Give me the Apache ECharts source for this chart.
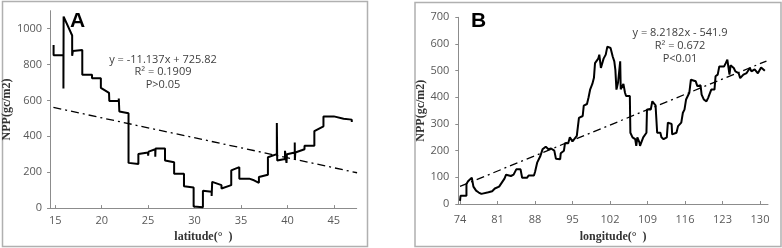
<!DOCTYPE html>
<html><head><meta charset="utf-8">
<script src="https://cdn.jsdelivr.net/npm/echarts@6/dist/echarts.min.js"></script>
<style>html,body{margin:0;padding:0;background:#fff}#c{width:782px;height:248px}</style>
</head><body><div id="c"></div>
<script>
// Panel A: NPP vs latitude
const latA = [14.82,14.82,15.88,15.88,15.9,16.82,16.82,16.9,17.91,17.91,18.96,18.96,19.91,19.91,20.79,20.82,21.84,21.84,21.9,22.89,22.89,23.95,23.95,25.0,25.0,25.05,25.77,25.77,25.8,26.82,26.82,27.8,27.8,28.86,28.86,29.9,29.9,30.9,30.9,31.84,31.84,31.9,32.9,32.9,33.95,33.95,34.82,34.82,35.88,35.88,36.4,36.93,36.93,37.9,37.9,38.86,38.86,38.9,39.74,39.74,39.9,39.95,40.79,40.79,40.8,40.85,41.84,41.84,42.9,42.9,43.88,43.88,45.0,45.0,46.05,46.93,46.93];
const nppA = [909,852,852,666,1067,962,849,876,881,743,743,724,724,670,642,597,597,611,538,529,252,246,301,310,292,315,328,286,332,332,265,255,192,192,122,115,9,5,97,91,68,146,128,109,128,210,228,164,164,173,155,141,173,186,283,301,474,265,274,319,252,300,310,365,268,310,328,347,347,429,456,511,511,502,498,493,480];
const trendAx = [14.8, 47.5];
const trendAy = [561, 197];
const ticksAx = [15,20,25,30,35,40,45];
const ticksAy = [0,200,400,600,800,1000];

// Panel B: NPP vs longitude
const lonB = [74.0,74.1,75.2,75.2,75.5,76.2,76.5,77.0,77.5,78.0,78.3,79.3,80.0,80.5,81.3,81.8,82.3,82.6,83.5,84.0,84.5,85.3,85.6,86.5,86.8,87.8,88.0,88.4,89.0,89.4,90.0,90.5,91.0,91.6,91.9,92.7,92.8,93.4,93.6,94.2,94.5,95.0,95.8,95.9,96.2,96.9,97.1,97.7,98.0,98.3,98.7,99.0,99.2,99.8,100.0,100.3,100.8,101.2,101.5,102.1,102.5,102.8,103.0,103.2,103.5,103.8,103.9,104.0,104.5,104.8,105.0,105.7,105.8,106.2,106.7,106.9,107.1,107.5,107.6,108.2,108.8,108.9,109.6,109.9,110.5,110.8,111.4,111.6,112.0,112.6,112.8,113.5,113.6,114.4,114.7,115.3,115.6,115.9,116.2,116.8,117.1,118.0,118.3,118.9,119.1,119.5,120.0,120.3,120.9,121.5,121.7,122.1,122.4,123.3,123.6,123.9,124.2,124.3,124.5,125.1,125.4,126.0,126.3,126.9,127.5,128.1,128.4,129.0,129.6,130.2,130.9];
const nppB = [12,31,31,75,85,99,65,50,43,38,44,44,48,58,65,80,95,110,105,110,130,130,98,98,107,107,120,155,180,205,215,205,208,200,170,168,190,200,228,228,250,235,255,262,323,330,369,375,400,430,450,473,528,545,560,510,545,560,590,585,553,535,503,429,455,455,535,430,450,417,405,405,267,250,243,218,250,230,218,250,267,354,354,385,370,267,267,250,243,250,305,300,261,267,292,305,342,354,392,417,466,460,442,445,410,392,385,397,429,429,479,485,516,516,528,541,535,485,520,510,497,491,472,485,491,510,497,505,490,512,500];
const trendBx = [74, 131.2];
const trendBy = [66, 536];
const ticksBx = [74,81,88,95,102,109,116,123,130];
const ticksBy = [0,100,200,300,400,500,600,700];

const zip = (xs, ys) => xs.map((x, i) => [x, ys[i]]);
const lblColor = '#595959';
const axColor = '#8c8c8c';
const nameStyle = {fontFamily: 'Liberation Serif', fontWeight: 'bold', fontSize: 12, color: '#333'};

function xAxis(idx, min, max, ticks, name, gap, margin) {
  return {type: 'value', gridIndex: idx, min, max, name, nameLocation: 'middle', nameGap: gap,
    nameTextStyle: nameStyle,
    axisLine: {lineStyle: {color: axColor, width: 1}},
    axisTick: {show: true, inside: true, length: 3, customValues: ticks, lineStyle: {color: axColor}},
    axisLabel: {customValues: ticks, color: lblColor, fontFamily: 'Open Sans', fontSize: 11, margin, formatter: v => String(v)},
    splitLine: {show: false}};
}
function yAxis(idx, min, max, ticks, gap, margin) {
  return {type: 'value', gridIndex: idx, min, max, name: 'NPP(gc/m2)', nameLocation: 'middle', nameGap: gap,
    nameRotate: 90, nameTextStyle: nameStyle,
    axisLine: {show: true, lineStyle: {color: axColor, width: 1}},
    axisTick: {show: true, length: 3, customValues: ticks, lineStyle: {color: axColor}},
    axisLabel: {customValues: ticks, color: lblColor, fontFamily: 'Open Sans', fontSize: 11, margin, formatter: v => String(v)},
    splitLine: {show: false}};
}
const eqStyle = {fontFamily: 'Open Sans', fontSize: 11, fill: '#404040', textAlign: 'center', textVerticalAlign: 'middle'};

const chart = echarts.init(document.getElementById('c'), null, {renderer: 'canvas'});
chart.setOption({
  animation: false,
  backgroundColor: '#fff',
  grid: [
    {left: 43, top: 10.7, right: 425.3, bottom: 36.3},
    {left: 458.3, top: 17.3, right: 14, bottom: 43}
  ],
  xAxis: [
    xAxis(0, 14.44, 47.46, ticksAx, 'latitude(°  )', 22, 7),
    xAxis(1, 73.68, 131.49, ticksBx, 'longitude(°  )', 27, 10)
  ],
  yAxis: [
    yAxis(0, 0, 1100, ticksAy, 27, 8),
    yAxis(1, 0, 700, ticksBy, 29, 9)
  ],
  series: [
    {type: 'line', xAxisIndex: 0, yAxisIndex: 0, data: zip(latA, nppA), symbol: 'none',
      lineStyle: {color: '#000', width: 2}},
    {type: 'line', xAxisIndex: 0, yAxisIndex: 0, data: zip(trendAx, trendAy), symbol: 'none',
      lineStyle: {color: '#000', width: 1.3, type: [8, 4, 2, 4]}},
    {type: 'line', xAxisIndex: 1, yAxisIndex: 1, data: zip(lonB, nppB), symbol: 'none',
      lineStyle: {color: '#000', width: 2}},
    {type: 'line', xAxisIndex: 1, yAxisIndex: 1, data: zip(trendBx, trendBy), symbol: 'none',
      lineStyle: {color: '#000', width: 1.3, type: [8, 4, 2, 4]}}
  ],
  graphic: [
    {type: 'rect', shape: {x: 2.5, y: 1.5, width: 365, height: 245}, style: {fill: 'none', stroke: '#b0b0b0', lineWidth: 1.5}, silent: true},
    {type: 'rect', shape: {x: 415, y: 2.5, width: 366, height: 244}, style: {fill: 'none', stroke: '#b0b0b0', lineWidth: 1.5}, silent: true},
    {type: 'text', left: 70, top: 11, style: {text: 'A', fontFamily: 'Liberation Sans', fontWeight: 'bold', fontSize: 21, fill: '#000'}},
    {type: 'text', left: 471, top: 11, style: {text: 'B', fontFamily: 'Liberation Sans', fontWeight: 'bold', fontSize: 21, fill: '#000'}},
    {type: 'text', x: 163, y: 60, style: Object.assign({text: 'y = -11.137x + 725.82'}, eqStyle)},
    {type: 'text', x: 163, y: 72, style: Object.assign({text: 'R² = 0.1909'}, eqStyle)},
    {type: 'text', x: 163, y: 85, style: Object.assign({text: 'P>0.05'}, eqStyle)},
    {type: 'text', x: 680, y: 33, style: Object.assign({text: 'y = 8.2182x - 541.9'}, eqStyle)},
    {type: 'text', x: 680, y: 45.5, style: Object.assign({text: 'R² = 0.672'}, eqStyle)},
    {type: 'text', x: 680, y: 59, style: Object.assign({text: 'P<0.01'}, eqStyle)}
  ]
});
</script></body></html>
